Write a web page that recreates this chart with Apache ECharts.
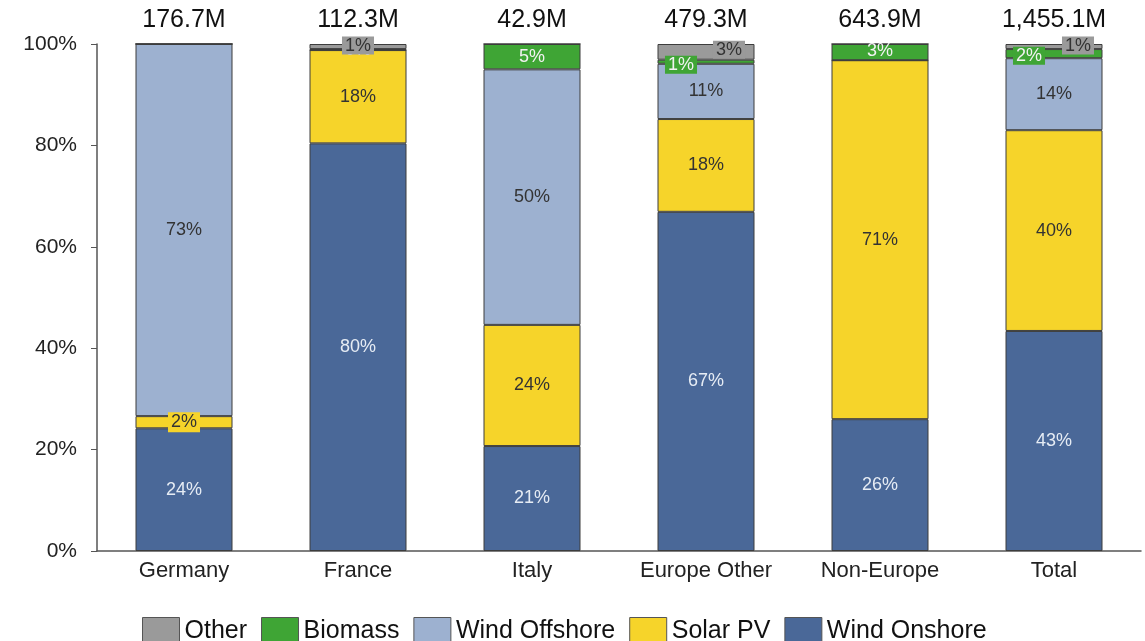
<!DOCTYPE html>
<html><head><meta charset="utf-8">
<script src="https://cdn.jsdelivr.net/npm/echarts@6/dist/echarts.min.js"></script>
<style>html,body{margin:0;padding:0;background:#fff}#c{width:1145px;height:641px}</style>
</head><body><div id="c"></div>
<script>
var categories = ['Germany','France','Italy','Europe Other','Non-Europe','Total'];
var totals = ['176.7M','112.3M','42.9M','479.3M','643.9M','1,455.1M'];
var windOnshore  = [24.2, 80.4, 20.7, 66.9, 26.0, 43.4];
var solarPV      = [2.4, 18.4, 23.9, 18.3, 70.8, 39.6];
var windOffshore = [73.4, 0, 50.4, 10.9, 0, 14.2];
var biomass      = [0, 0.2, 5.0, 0.8, 3.2, 1.8];
var other        = [0, 1.0, 0, 3.1, 0, 1.0];
var yTicks = [0, 20, 40, 60, 80, 100];

var FONT = 'Liberation Sans, Arial, sans-serif';
var colors = {
  'Wind Onshore': '#4a6898', 'Solar PV': '#f6d42a', 'Wind Offshore': '#9db1d0',
  'Biomass': '#3fa535', 'Other': '#9a9a9a'
};
var labelColors = {
  'Wind Onshore': '#e6ecf4', 'Solar PV': '#333', 'Wind Offshore': '#333',
  'Biomass': '#f2f2f2', 'Other': '#333'
};
// per-point label adjustments for tiny segments (style only)
var labelTweaks = {
  'Solar PV': {0: {backgroundColor: '#f6d42a', padding: [1, 3]}},
  'Other': {1: {backgroundColor: '#9a9a9a', padding: [0, 3], offset: [0, -1]},
            3: {backgroundColor: '#9a9a9a', padding: [0, 3], offset: [23, -2]},
            5: {backgroundColor: '#9a9a9a', padding: [0, 3], offset: [24, -1]}},
  'Biomass': {3: {backgroundColor: '#3fa535', padding: [0, 3], offset: [-25, 3]},
              5: {backgroundColor: '#3fa535', padding: [0, 3], offset: [-25, 2]},
              4: {offset: [0, -1]}}
};
function mk(name, arr) {
  var tw = labelTweaks[name] || {};
  return {
    name: name, type: 'bar', stack: 'a', barWidth: 97,
    itemStyle: {color: colors[name], borderColor: '#3d3d3d', borderWidth: 1},
    label: {show: true, position: 'inside', color: labelColors[name], fontSize: 18, fontFamily: FONT,
      formatter: function (p) { return p.value > 0 ? Math.round(p.value) + '%' : ''; }},
    data: arr.map(function (v, i) {
      var d = {value: v};
      if (tw[i]) d.label = tw[i];
      return d;
    })
  };
}
var chart = echarts.init(document.getElementById('c'));
chart.setOption({
  animation: false,
  textStyle: {fontFamily: FONT},
  grid: {left: 97, right: 4, top: 44, bottom: 90, containLabel: false},
  legend: {
    top: 612, left: 137, itemWidth: 37, itemHeight: 28, itemGap: 14,
    icon: 'rect',
    textStyle: {fontSize: 25, color: '#111', fontFamily: FONT},
    itemStyle: {borderColor: '#555', borderWidth: 1},
    data: ['Other', 'Biomass', 'Wind Offshore', 'Solar PV', 'Wind Onshore']
  },
  xAxis: [{
    type: 'category', data: categories,
    axisLine: {lineStyle: {color: '#555', width: 1.5}}, axisTick: {show: false},
    axisLabel: {fontSize: 22, color: '#222', margin: 9}
  }, {
    type: 'category', data: totals, position: 'top',
    axisLine: {show: false}, axisTick: {show: false},
    axisLabel: {fontSize: 25, color: '#111', margin: 11}
  }],
  yAxis: {
    type: 'value', min: 0, max: 100, interval: 20,
    axisLine: {show: true, lineStyle: {color: '#555', width: 1.5}},
    axisTick: {show: true, length: 6, lineStyle: {color: '#555'}},
    splitLine: {show: false},
    axisLabel: {fontSize: 21, color: '#222', margin: 20,
      formatter: function (v) { return yTicks.indexOf(v) >= 0 ? v + '%' : ''; }}
  },
  series: [
    mk('Wind Onshore', windOnshore),
    mk('Solar PV', solarPV),
    mk('Wind Offshore', windOffshore),
    mk('Biomass', biomass),
    mk('Other', other)
  ]
});
</script></body></html>
